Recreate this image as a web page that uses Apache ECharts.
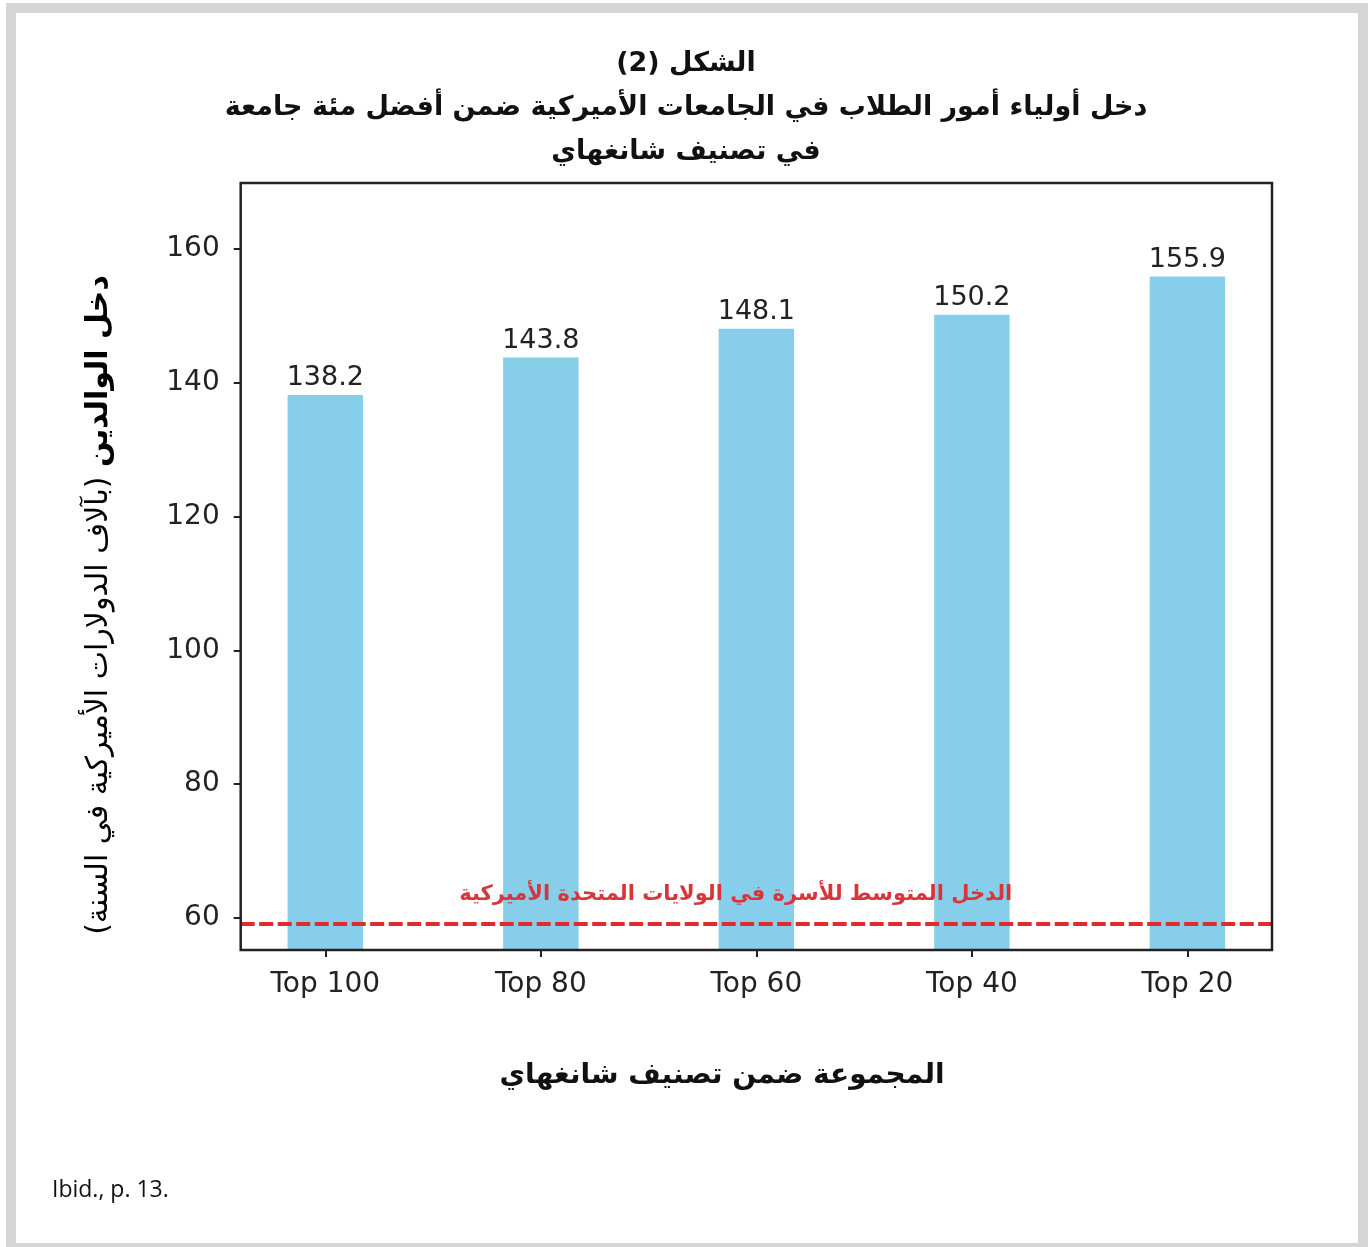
<!DOCTYPE html>
<html>
<head>
<meta charset="utf-8">
<script src="https://cdn.jsdelivr.net/npm/echarts@6/dist/echarts.min.js"></script>
<style>
  html, body { margin: 0; padding: 0; background: #fff; }
  #chart { width: 1370px; height: 1247px; }
</style>
</head>
<body>
<div id="chart"></div>
<script>
// Shanghai-ranking groups and mean parental income (thousand USD / year)
const categories = ['Top 100', 'Top 80', 'Top 60', 'Top 40', 'Top 20'];
const incomeValues = [138.2, 143.8, 148.1, 150.2, 155.9];
// US median household income reference line
const medianIncome = 59.1;
const yTickValues = [60, 80, 100, 120, 140, 160];

const RLM = '\u200F';
const rtl = s => RLM + s + RLM;

const titleLines = [
  'الشكل (2)',
  'دخل أولياء أمور الطلاب في الجامعات الأميركية ضمن أفضل مئة جامعة',
  'في تصنيف شانغهاي'
];
const xAxisTitle = 'المجموعة ضمن تصنيف شانغهاي';
const yAxisTitleBold = 'دخل الوالدين';
const yAxisTitleRest = '(بآلاف الدولارات الأميركية في السنة)';
const medianLabel = 'الدخل المتوسط للأسرة في الولايات المتحدة الأميركية';
const sourceNote = 'Ibid., p. 13.';

const Y_MIN = 55.2, Y_MAX = 169.9;
const arabicFont = '"DejaVu Sans", "Noto Sans", sans-serif';
const latinFont = '"DejaVu Sans", sans-serif';
const ink = '#222';

// frame box of the plot
const frame = { left: 240.7, top: 183, width: 1031.3, height: 767 };
// bar band: five categories laid out with matplotlib-like side margins
const band = frame.width / 4.785;
const barGrid = { left: frame.left + 0.3925 * band - band / 2, top: frame.top, width: band * 5, height: frame.height };

const titleGraphics = titleLines.map((line, i) => ({
  type: 'text', x: 686, y: 64 + i * 44,
  style: {
    text: rtl(line), align: 'center', verticalAlign: 'middle',
    fontFamily: arabicFont, fontWeight: 'bold', fontSize: 27, fill: '#111'
  }
}));

const chart = echarts.init(document.getElementById('chart'), null, { renderer: 'canvas' });

chart.setOption({
  animation: false,
  backgroundColor: '#fff',
  grid: [
    Object.assign({ show: true, borderColor: ink, borderWidth: 2.5, backgroundColor: 'transparent', z: 5 }, frame),
    barGrid
  ],
  xAxis: [
    { gridIndex: 0, type: 'value', min: 0, max: 1, show: false },
    {
      gridIndex: 1, type: 'category', data: categories,
      axisLine: { show: false },
      axisTick: { show: true, alignWithLabel: true, length: 7, lineStyle: { color: ink, width: 2 } },
      axisLabel: { color: ink, fontFamily: latinFont, fontSize: 28, margin: 21 }
    }
  ],
  yAxis: [
    {
      gridIndex: 0, type: 'value', min: Y_MIN, max: Y_MAX,
      axisLine: { show: false },
      splitLine: { show: false },
      axisTick: { show: true, length: 7, lineStyle: { color: ink, width: 2 }, customValues: yTickValues },
      axisLabel: { color: ink, fontFamily: latinFont, fontSize: 28, margin: 21, customValues: yTickValues }
    },
    { gridIndex: 1, type: 'value', min: Y_MIN, max: Y_MAX, show: false, splitLine: { show: false } }
  ],
  series: [
    {
      type: 'bar', xAxisIndex: 1, yAxisIndex: 1,
      data: incomeValues,
      barWidth: band * 0.35,
      itemStyle: { color: '#87CEEB' },
      label: {
        show: true, position: 'top', distance: 3,
        color: ink, fontFamily: latinFont, fontSize: 27,
        formatter: p => p.value.toFixed(1)
      },
      z: 2
    },
    {
      type: 'line', xAxisIndex: 0, yAxisIndex: 0,
      data: [[0, medianIncome], [1, medianIncome]],
      symbol: 'none',
      lineStyle: { color: '#e02a2f', width: 4, type: [14, 4.5] },
      z: 4,
      markPoint: {
        symbol: 'circle', symbolSize: 0,
        data: [{ coord: [0.48, medianIncome] }],
        label: {
          show: true, offset: [0, -29],
          formatter: rtl(medianLabel),
          color: '#d8353b', fontFamily: arabicFont, fontWeight: 'bold', fontSize: 21
        }
      }
    }
  ],
  graphic: titleGraphics.concat([
    {
      type: 'rect', silent: true,
      shape: { x: 11, y: 8, width: 1352, height: 1240 },
      style: { fill: 'none', stroke: '#d4d5d7', lineWidth: 10 }
    },
    {
      type: 'text', x: 99, y: 605, rotation: Math.PI / 2,
      style: {
        text: '{n|' + rtl(yAxisTitleRest) + '}{n| }{b|' + yAxisTitleBold + '}',
        align: 'center', verticalAlign: 'middle',
        rich: {
          n: { fontFamily: arabicFont, fontSize: 30, color: '#111' },
          b: { fontFamily: arabicFont, fontSize: 30, fontWeight: 'bold', color: '#111' }
        }
      }
    },
    {
      type: 'text', x: 722, y: 1076,
      style: {
        text: rtl(xAxisTitle), align: 'center', verticalAlign: 'middle',
        fontFamily: arabicFont, fontWeight: 'bold', fontSize: 28, fill: '#111'
      }
    },
    {
      type: 'text', x: 52, y: 1190,
      style: {
        text: sourceNote, align: 'left', verticalAlign: 'middle',
        fontFamily: '"Open Sans", "Noto Sans", sans-serif', fontSize: 23, fill: '#111'
      }
    }
  ])
});
</script>
</body>
</html>
